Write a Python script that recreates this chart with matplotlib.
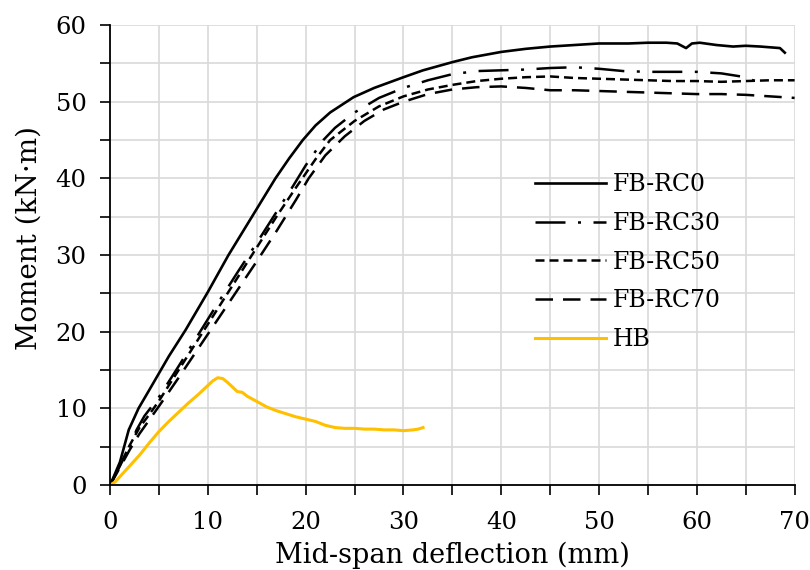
#!/usr/bin/env python3

import numpy as np
import matplotlib
matplotlib.use('Agg')
import matplotlib.pyplot as plt
from matplotlib.ticker import MultipleLocator

# deflection (mm) / moment (kN.m)
rc0_x = [0, 0.5, 1, 1.9, 2.9, 4, 5, 6, 7.7, 10, 12.1, 14.5, 16.9, 18.3, 19.7,
         21, 22.5, 24.9, 27, 30, 32, 35.1, 37, 40, 42.5, 45, 47.5, 50, 53, 55,
         56.9, 58, 58.9, 59.5, 60.3, 62, 63.7, 65, 66.5, 68.5, 69]
rc0_y = [0, 1.5, 3, 7.2, 10, 12.4, 14.6, 16.8, 20.2, 25.2, 30, 35, 40, 42.6, 45,
         46.9, 48.6, 50.6, 51.8, 53.2, 54.1, 55.2, 55.8, 56.5, 56.9, 57.2, 57.4,
         57.6, 57.6, 57.7, 57.7, 57.6, 57.0, 57.6, 57.7, 57.4, 57.2, 57.3, 57.2,
         57.0, 56.4]

rc30_x = [0, 1, 2, 2.7, 3.5, 5, 7, 9, 11, 13, 15, 17, 18.7, 20, 21.8, 23, 25,
          27.5, 30, 32.5, 35, 37.5, 40, 42.5, 45, 47.5, 50, 52.5, 55, 57.5, 60,
          62.5, 64.5, 66]
rc30_y = [0, 2.5, 5, 7.2, 9, 11.5, 15.5, 19.6, 23.7, 27.7, 31.6, 35.6, 39.0,
          41.7, 45, 46.6, 48.6, 50.5, 51.8, 52.8, 53.6, 54.0, 54.1, 54.2, 54.4,
          54.5, 54.3, 54.0, 53.9, 53.9, 53.9, 53.7, 53.3, 52.7]

rc50_x = [0, 1, 2, 3, 4, 5, 7, 9, 11, 13, 15, 17, 19, 21, 22.5, 25, 27.5, 30,
          32.5, 35, 37.5, 40, 42.5, 45, 47.5, 50, 52.5, 55, 57.5, 60, 62.5, 65,
          67.5, 70]
rc50_y = [0, 2.6, 5.2, 7.5, 9.2, 11.0, 15.0, 19.0, 23.0, 27.0, 31.0, 35.0, 38.8,
          42.5, 45, 47.5, 49.4, 50.7, 51.6, 52.2, 52.7, 53.0, 53.2, 53.3, 53.1,
          53.0, 52.9, 52.8, 52.7, 52.7, 52.6, 52.7, 52.8, 52.8]

rc70_x = [0, 1, 2, 3, 4, 5, 7, 9, 11, 13, 15, 17, 19, 20.3, 22, 24, 26, 28, 30,
          32.5, 35, 37.5, 40, 42.5, 45, 47.5, 50, 52.5, 55, 57.5, 60, 62.5, 65,
          67.5, 70]
rc70_y = [0, 2.3, 4.6, 6.7, 8.5, 10.3, 14.0, 17.8, 21.6, 25.4, 29.2, 33.1, 37.2,
          40, 43.0, 45.5, 47.5, 49.0, 50.0, 51.0, 51.6, 51.9, 52.0, 51.8, 51.5,
          51.5, 51.4, 51.3, 51.2, 51.1, 51.0, 51.0, 50.9, 50.7, 50.5]

hb_x = [0, 0.5, 1, 2, 3, 4, 5, 6, 7, 8, 9, 10, 10.5, 11, 11.5, 12, 12.5, 13,
        13.5, 14, 15, 16, 17, 18, 19, 20, 21, 22, 23, 24, 25, 26, 27, 28, 29,
        30, 31, 31.5, 32]
hb_y = [0, 0.4, 1.1, 2.5, 3.9, 5.5, 7.0, 8.3, 9.5, 10.7, 11.8, 13.0, 13.6, 14.0,
        13.9, 13.4, 12.8, 12.2, 12.1, 11.6, 10.9, 10.2, 9.7, 9.3, 8.9, 8.6, 8.3,
        7.8, 7.5, 7.4, 7.4, 7.3, 7.3, 7.2, 7.2, 7.1, 7.2, 7.3, 7.5]

plt.rcParams['font.family'] = ['DejaVu Serif']

figure = plt.figure(figsize=(8.1, 5.7), dpi=100)
ax = figure.add_axes([0.136, 0.149, 0.845, 0.807])

ax.plot(rc0_x, rc0_y, color='black', lw=1.9, label='FB-RC0')
ax.plot(rc30_x, rc30_y, color='black', lw=1.8, ls=(0, (12, 5, 1.2, 5)),
        label='FB-RC30')
ax.plot(rc50_x, rc50_y, color='black', lw=1.8, ls=(0, (3.6, 2)),
        label='FB-RC50')
ax.plot(rc70_x, rc70_y, color='black', lw=1.8, ls=(0, (7, 4)),
        label='FB-RC70')
ax.plot(hb_x, hb_y, color='#FFC000', lw=2.2, label='HB')

ax.set_xlim(0, 70)
ax.set_ylim(0, 60)
ax.xaxis.set_major_locator(MultipleLocator(10))
ax.xaxis.set_minor_locator(MultipleLocator(5))
ax.yaxis.set_major_locator(MultipleLocator(10))
ax.yaxis.set_minor_locator(MultipleLocator(5))
ax.grid(True, which='both', color='#d9d9d9', lw=1.2)
ax.set_axisbelow(True)

for side in ('top', 'right'):
    ax.spines[side].set_visible(False)
for side in ('left', 'bottom'):
    ax.spines[side].set_linewidth(1.3)

ax.tick_params(which='both', direction='out', length=7, width=1.2,
               labelsize=17.5)
ax.tick_params(axis='x', pad=12)
ax.tick_params(axis='y', pad=10)

ax.set_xlabel('Mid-span deflection (mm)', fontsize=19.5)
ax.xaxis.set_label_coords(0.5, -0.123)
ax.set_ylabel('Moment (kN\u00b7m)', fontsize=20)
ax.yaxis.label.set_verticalalignment('center')
ax.yaxis.set_label_coords(-0.118, 0.537)

ax.legend(loc='upper left', bbox_to_anchor=(0.607, 0.699), frameon=False,
          fontsize=17, handlelength=3.0, handletextpad=0.3,
          labelspacing=0.67, borderaxespad=0)

figure.savefig('out.png', dpi=100)
